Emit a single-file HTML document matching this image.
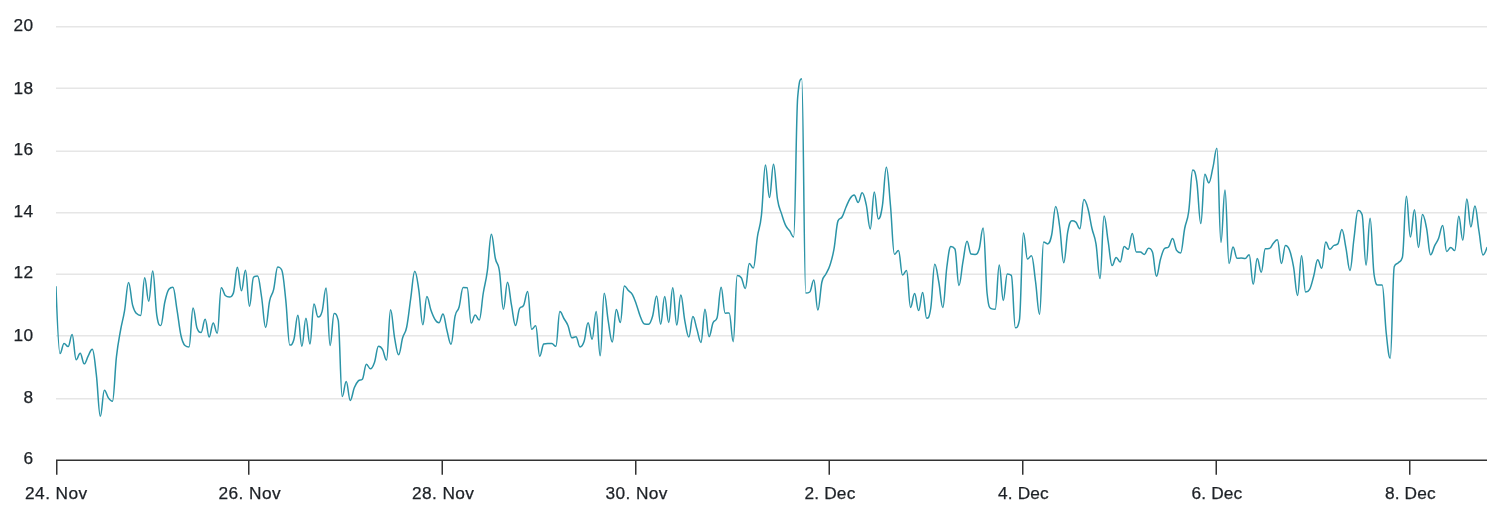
<!DOCTYPE html>
<html lang="en">
<head>
<meta charset="utf-8">
<title>Chart</title>
<style>
html,body{margin:0;padding:0;background:#fff;}
body{width:1502px;height:519px;overflow:hidden;}
svg{display:block;}
text{font-family:"Liberation Sans",sans-serif;font-size:17.3px;fill:#1d2126;letter-spacing:0.4px;stroke:#1d2126;stroke-width:0.25px;}
</style>
</head>
<body>
<svg width="1502" height="519" viewBox="0 0 1502 519">
<rect x="0" y="0" width="1502" height="519" fill="#ffffff"/>
<g fill="none" stroke="#e6e6e6" stroke-width="1.5">
<path d="M 56.0 26.75 L 1487.0 26.75"/>
<path d="M 56.0 88.25 L 1487.0 88.25"/>
<path d="M 56.0 151.25 L 1487.0 151.25"/>
<path d="M 56.0 212.75 L 1487.0 212.75"/>
<path d="M 56.0 274.25 L 1487.0 274.25"/>
<path d="M 56.0 335.75 L 1487.0 335.75"/>
<path d="M 56.0 398.75 L 1487.0 398.75"/>
</g>
<g fill="none" stroke="#333333" stroke-width="1.5">
<path d="M 56.0 460.25 L 1487.0 460.25"/>
<path d="M 56.75 460.25 L 56.75 474.75"/>
<path d="M 248.75 460.25 L 248.75 474.75"/>
<path d="M 442.25 460.25 L 442.25 474.75"/>
<path d="M 635.75 460.25 L 635.75 474.75"/>
<path d="M 829.25 460.25 L 829.25 474.75"/>
<path d="M 1022.75 460.25 L 1022.75 474.75"/>
<path d="M 1216.25 460.25 L 1216.25 474.75"/>
<path d="M 1409.75 460.25 L 1409.75 474.75"/>
</g>
<defs><clipPath id="plotclip"><rect x="56" y="26" width="1431" height="434"/></clipPath></defs>
<g clip-path="url(#plotclip)"><path d="M 56.00 286.70 C 56.00 286.70 58.42 353.50 60.03 353.50 C 61.64 353.50 62.45 343.50 64.06 343.50 C 65.67 343.50 66.48 346.60 68.09 346.60 C 69.71 346.60 70.51 334.50 72.12 334.50 C 73.74 334.50 74.54 359.70 76.15 359.70 C 77.77 359.70 78.57 353.20 80.19 353.20 C 81.80 353.20 82.60 363.80 84.22 363.80 C 85.83 363.80 86.64 358.72 88.25 355.80 C 89.86 352.88 90.67 349.20 92.28 349.20 C 93.89 349.20 94.70 360.88 96.31 374.30 C 97.92 387.72 98.73 416.30 100.34 416.30 C 101.95 416.30 102.76 390.20 104.37 390.20 C 105.98 390.20 106.79 395.68 108.40 397.90 C 110.02 400.12 110.82 401.30 112.43 401.30 C 114.05 401.30 114.85 370.76 116.46 356.60 C 118.08 342.44 118.88 339.66 120.50 330.50 C 122.11 321.34 122.91 320.42 124.53 310.80 C 126.14 301.18 126.95 282.40 128.56 282.40 C 130.17 282.40 130.98 298.86 132.59 305.10 C 134.20 311.34 135.01 311.80 136.62 313.60 C 138.23 315.40 139.04 315.40 140.65 315.40 C 142.26 315.40 143.07 277.80 144.68 277.80 C 146.29 277.80 147.10 301.20 148.71 301.20 C 150.33 301.20 151.13 270.90 152.74 270.90 C 154.36 270.90 155.16 304.70 156.77 315.10 C 158.39 325.50 159.19 325.50 160.81 325.50 C 162.42 325.50 163.22 309.24 164.84 302.00 C 166.45 294.76 167.26 291.30 168.87 289.30 C 170.48 287.30 171.29 287.30 172.90 287.30 C 174.51 287.30 175.32 299.66 176.93 309.30 C 178.54 318.94 179.35 328.26 180.96 335.50 C 182.57 342.74 183.38 344.00 184.99 345.50 C 186.60 347.00 187.41 347.00 189.02 347.00 C 190.63 347.00 191.44 308.10 193.05 308.10 C 194.67 308.10 195.47 324.00 197.08 328.20 C 198.70 332.40 199.50 332.40 201.12 332.40 C 202.73 332.40 203.53 319.30 205.15 319.30 C 206.76 319.30 207.57 337.00 209.18 337.00 C 210.79 337.00 211.60 322.90 213.21 322.90 C 214.82 322.90 215.63 333.20 217.24 333.20 C 218.85 333.20 219.66 287.70 221.27 287.70 C 222.88 287.70 223.69 294.00 225.30 295.50 C 226.91 297.00 227.72 297.00 229.33 297.00 C 230.94 297.00 231.75 297.00 233.36 293.10 C 234.98 289.20 235.78 267.20 237.39 267.20 C 239.01 267.20 239.81 290.80 241.43 290.80 C 243.04 290.80 243.84 270.30 245.46 270.30 C 247.07 270.30 247.87 306.20 249.49 306.20 C 251.10 306.20 251.91 278.70 253.52 277.30 C 255.13 275.90 255.94 275.90 257.55 275.90 C 259.16 275.90 259.97 286.70 261.58 297.00 C 263.19 307.30 264.00 327.40 265.61 327.40 C 267.22 327.40 268.03 308.42 269.64 300.80 C 271.25 293.18 272.06 296.08 273.67 289.30 C 275.29 282.52 276.09 266.90 277.70 266.90 C 279.32 266.90 280.12 266.90 281.74 270.00 C 283.35 273.10 284.15 285.08 285.77 300.10 C 287.38 315.12 288.18 345.10 289.80 345.10 C 291.41 345.10 292.22 345.10 293.83 339.70 C 295.44 334.30 296.25 315.20 297.86 315.20 C 299.47 315.20 300.28 346.20 301.89 346.20 C 303.50 346.20 304.31 318.30 305.92 318.30 C 307.53 318.30 308.34 343.90 309.95 343.90 C 311.56 343.90 312.37 303.90 313.98 303.90 C 315.60 303.90 316.40 317.00 318.01 317.00 C 319.63 317.00 320.43 317.00 322.05 311.60 C 323.66 306.20 324.46 288.10 326.08 288.10 C 327.69 288.10 328.49 345.40 330.11 345.40 C 331.72 345.40 332.53 313.50 334.14 313.50 C 335.75 313.50 336.56 313.50 338.17 320.10 C 339.78 326.70 340.59 396.60 342.20 396.60 C 343.81 396.60 344.62 381.60 346.23 381.60 C 347.84 381.60 348.65 400.40 350.26 400.40 C 351.87 400.40 352.68 391.70 354.29 387.80 C 355.91 383.90 356.71 382.50 358.32 380.90 C 359.94 379.30 360.74 380.90 362.35 379.30 C 363.97 377.70 364.77 364.20 366.39 364.20 C 368.00 364.20 368.80 368.80 370.42 368.80 C 372.03 368.80 372.84 366.92 374.45 362.40 C 376.06 357.88 376.87 346.20 378.48 346.20 C 380.09 346.20 380.90 346.52 382.51 349.30 C 384.12 352.08 384.93 360.10 386.54 360.10 C 388.15 360.10 388.96 309.70 390.57 309.70 C 392.18 309.70 392.99 328.80 394.60 337.80 C 396.22 346.80 397.02 354.70 398.63 354.70 C 400.25 354.70 401.05 343.34 402.66 337.80 C 404.28 332.26 405.08 334.90 406.70 327.00 C 408.31 319.10 409.11 309.46 410.73 298.30 C 412.34 287.14 413.15 271.20 414.76 271.20 C 416.37 271.20 417.18 279.10 418.79 289.80 C 420.40 300.50 421.21 324.70 422.82 324.70 C 424.43 324.70 425.24 296.50 426.85 296.50 C 428.46 296.50 429.27 305.44 430.88 310.00 C 432.49 314.56 433.30 316.74 434.91 319.30 C 436.53 321.86 437.33 322.80 438.94 322.80 C 440.56 322.80 441.36 313.90 442.97 313.90 C 444.59 313.90 445.39 324.72 447.01 330.80 C 448.62 336.88 449.42 344.30 451.04 344.30 C 452.65 344.30 453.46 323.66 455.07 316.20 C 456.68 308.74 457.49 312.76 459.10 307.00 C 460.71 301.24 461.52 287.40 463.13 287.40 C 464.74 287.40 465.55 287.40 467.16 287.70 C 468.77 288.00 469.58 323.10 471.19 323.10 C 472.80 323.10 473.61 315.10 475.22 315.10 C 476.83 315.10 477.64 320.10 479.25 320.10 C 480.87 320.10 481.67 302.78 483.28 293.00 C 484.90 283.22 485.70 282.94 487.32 271.20 C 488.93 259.46 489.73 234.30 491.35 234.30 C 492.96 234.30 493.77 251.16 495.38 258.50 C 496.99 265.84 497.80 260.84 499.41 271.00 C 501.02 281.16 501.83 309.30 503.44 309.30 C 505.05 309.30 505.86 282.30 507.47 282.30 C 509.08 282.30 509.89 296.56 511.50 305.20 C 513.11 313.84 513.92 325.50 515.53 325.50 C 517.14 325.50 517.95 311.60 519.56 308.50 C 521.18 305.40 521.98 308.50 523.59 305.40 C 525.21 302.30 526.01 291.40 527.63 291.40 C 529.24 291.40 530.04 329.30 531.66 329.30 C 533.27 329.30 534.07 325.80 535.69 325.80 C 537.30 325.80 538.11 356.30 539.72 356.30 C 541.33 356.30 542.14 344.50 543.75 344.00 C 545.36 343.50 546.17 343.50 547.78 343.50 C 549.39 343.50 550.20 343.50 551.81 343.50 C 553.42 343.50 554.23 346.30 555.84 346.30 C 557.45 346.30 558.26 311.60 559.87 311.60 C 561.49 311.60 562.29 315.72 563.90 318.50 C 565.52 321.28 566.32 321.64 567.94 325.50 C 569.55 329.36 570.35 337.80 571.97 337.80 C 573.58 337.80 574.38 336.70 576.00 336.70 C 577.61 336.70 578.42 347.00 580.03 347.00 C 581.64 347.00 582.45 346.46 584.06 341.60 C 585.67 336.74 586.48 322.70 588.09 322.70 C 589.70 322.70 590.51 339.30 592.12 339.30 C 593.73 339.30 594.54 311.60 596.15 311.60 C 597.76 311.60 598.57 355.80 600.18 355.80 C 601.80 355.80 602.60 293.20 604.21 293.20 C 605.83 293.20 606.63 311.44 608.25 321.20 C 609.86 330.96 610.66 342.00 612.28 342.00 C 613.89 342.00 614.69 309.60 616.31 309.60 C 617.92 309.60 618.73 322.40 620.34 322.40 C 621.95 322.40 622.76 285.90 624.37 285.90 C 625.98 285.90 626.79 288.76 628.40 290.50 C 630.01 292.24 630.82 291.76 632.43 294.60 C 634.04 297.44 634.85 300.22 636.46 304.70 C 638.07 309.18 638.88 313.16 640.49 317.00 C 642.11 320.84 642.91 323.60 644.52 323.90 C 646.14 324.20 646.94 324.20 648.55 324.20 C 650.17 324.20 650.97 321.86 652.59 316.20 C 654.20 310.54 655.00 295.90 656.62 295.90 C 658.23 295.90 659.04 324.20 660.65 324.20 C 662.26 324.20 663.07 296.60 664.68 296.60 C 666.29 296.60 667.10 322.40 668.71 322.40 C 670.32 322.40 671.13 287.70 672.74 287.70 C 674.35 287.70 675.16 325.00 676.77 325.00 C 678.38 325.00 679.19 295.00 680.80 295.00 C 682.42 295.00 683.22 312.40 684.83 320.80 C 686.45 329.20 687.25 337.00 688.86 337.00 C 690.48 337.00 691.28 316.50 692.90 316.50 C 694.51 316.50 695.31 324.12 696.93 329.30 C 698.54 334.48 699.35 342.40 700.96 342.40 C 702.57 342.40 703.38 309.30 704.99 309.30 C 706.60 309.30 707.41 336.70 709.02 336.70 C 710.63 336.70 711.44 326.58 713.05 322.80 C 714.66 319.02 715.47 322.80 717.08 317.80 C 718.69 312.80 719.50 287.30 721.11 287.30 C 722.73 287.30 723.53 313.20 725.14 313.20 C 726.76 313.20 727.56 312.90 729.17 312.90 C 730.79 312.90 731.59 341.70 733.21 341.70 C 734.82 341.70 735.62 275.60 737.24 275.60 C 738.85 275.60 739.66 275.60 741.27 277.70 C 742.88 279.80 743.69 288.50 745.30 288.50 C 746.91 288.50 747.72 263.50 749.33 263.50 C 750.94 263.50 751.75 268.10 753.36 268.10 C 754.97 268.10 755.78 247.54 757.39 237.00 C 759.00 226.46 759.81 229.78 761.42 215.40 C 763.03 201.02 763.84 165.10 765.45 165.10 C 767.07 165.10 767.87 197.50 769.48 197.50 C 771.10 197.50 771.90 164.20 773.52 164.20 C 775.13 164.20 775.93 189.76 777.55 199.70 C 779.16 209.64 779.97 208.76 781.58 213.90 C 783.19 219.04 784.00 222.02 785.61 225.40 C 787.22 228.78 788.03 228.48 789.64 230.80 C 791.25 233.12 792.06 237.00 793.67 237.00 C 795.28 237.00 796.09 115.20 797.70 97.00 C 799.31 78.80 800.12 78.80 801.73 78.80 C 803.34 78.80 804.15 293.10 805.76 293.10 C 807.38 293.10 808.18 293.10 809.79 292.00 C 811.41 290.90 812.21 280.00 813.83 280.00 C 815.44 280.00 816.24 310.10 817.86 310.10 C 819.47 310.10 820.27 289.22 821.89 282.00 C 823.50 274.78 824.31 277.36 825.92 274.00 C 827.53 270.64 828.34 270.16 829.95 265.20 C 831.56 260.24 832.37 258.06 833.98 249.20 C 835.59 240.34 836.40 224.80 838.01 220.90 C 839.62 217.00 840.43 219.78 842.04 217.00 C 843.65 214.22 844.46 210.70 846.07 207.00 C 847.69 203.30 848.49 200.88 850.10 198.50 C 851.72 196.12 852.52 195.10 854.14 195.10 C 855.75 195.10 856.55 202.40 858.17 202.40 C 859.78 202.40 860.58 192.80 862.20 192.80 C 863.81 192.80 864.62 197.48 866.23 204.70 C 867.84 211.92 868.65 228.90 870.26 228.90 C 871.87 228.90 872.68 191.90 874.29 191.90 C 875.90 191.90 876.71 219.00 878.32 219.00 C 879.93 219.00 880.74 216.56 882.35 206.20 C 883.96 195.84 884.77 167.20 886.38 167.20 C 888.00 167.20 888.80 187.30 890.41 204.70 C 892.03 222.10 892.83 254.20 894.45 254.20 C 896.06 254.20 896.86 250.50 898.48 250.50 C 900.09 250.50 900.89 275.10 902.51 275.10 C 904.12 275.10 904.93 270.50 906.54 270.50 C 908.15 270.50 908.96 307.40 910.57 307.40 C 912.18 307.40 912.99 293.60 914.60 293.60 C 916.21 293.60 917.02 310.60 918.63 310.60 C 920.24 310.60 921.05 292.40 922.66 292.40 C 924.27 292.40 925.08 318.30 926.69 318.30 C 928.31 318.30 929.11 318.30 930.72 308.50 C 932.34 298.70 933.14 264.30 934.75 264.30 C 936.37 264.30 937.17 273.36 938.79 282.00 C 940.40 290.64 941.20 307.50 942.82 307.50 C 944.43 307.50 945.24 279.18 946.85 267.00 C 948.46 254.82 949.27 246.60 950.88 246.60 C 952.49 246.60 953.30 246.60 954.91 249.00 C 956.52 251.40 957.33 285.40 958.94 285.40 C 960.55 285.40 961.36 270.52 962.97 261.70 C 964.58 252.88 965.39 241.30 967.00 241.30 C 968.62 241.30 969.42 253.60 971.03 254.00 C 972.65 254.40 973.45 254.40 975.06 254.40 C 976.68 254.40 977.48 254.40 979.10 249.30 C 980.71 244.20 981.51 228.10 983.13 228.10 C 984.74 228.10 985.55 279.40 987.16 294.00 C 988.77 308.60 989.58 307.90 991.19 308.60 C 992.80 309.30 993.61 309.30 995.22 309.30 C 996.83 309.30 997.64 265.00 999.25 265.00 C 1000.86 265.00 1001.67 300.40 1003.28 300.40 C 1004.89 300.40 1005.70 273.90 1007.31 273.90 C 1008.93 273.90 1009.73 273.90 1011.34 275.40 C 1012.96 276.90 1013.76 327.80 1015.37 327.80 C 1016.99 327.80 1017.79 327.80 1019.41 320.10 C 1021.02 312.40 1021.82 233.10 1023.44 233.10 C 1025.05 233.10 1025.86 259.00 1027.47 259.00 C 1029.08 259.00 1029.89 255.80 1031.50 255.80 C 1033.11 255.80 1033.92 269.80 1035.53 281.50 C 1037.14 293.20 1037.95 314.30 1039.56 314.30 C 1041.17 314.30 1041.98 242.00 1043.59 242.00 C 1045.20 242.00 1046.01 243.90 1047.62 243.90 C 1049.23 243.90 1050.04 242.48 1051.65 235.00 C 1053.27 227.52 1054.07 206.50 1055.68 206.50 C 1057.30 206.50 1058.10 215.74 1059.72 227.00 C 1061.33 238.26 1062.13 262.80 1063.75 262.80 C 1065.36 262.80 1066.17 240.00 1067.78 231.60 C 1069.39 223.20 1070.20 220.80 1071.81 220.80 C 1073.42 220.80 1074.23 220.80 1075.84 222.10 C 1077.45 223.40 1078.26 228.80 1079.87 228.80 C 1081.48 228.80 1082.29 199.60 1083.90 199.60 C 1085.51 199.60 1086.32 202.72 1087.93 208.50 C 1089.54 214.28 1090.35 221.42 1091.96 228.50 C 1093.58 235.58 1094.38 233.88 1095.99 243.90 C 1097.61 253.92 1098.41 278.60 1100.03 278.60 C 1101.64 278.60 1102.44 215.90 1104.06 215.90 C 1105.67 215.90 1106.47 230.96 1108.09 240.90 C 1109.70 250.84 1110.51 265.60 1112.12 265.60 C 1113.73 265.60 1114.54 257.40 1116.15 257.40 C 1117.76 257.40 1118.57 262.00 1120.18 262.00 C 1121.79 262.00 1122.60 246.60 1124.21 246.60 C 1125.82 246.60 1126.63 249.30 1128.24 249.30 C 1129.85 249.30 1130.66 233.50 1132.27 233.50 C 1133.89 233.50 1134.69 252.00 1136.30 252.00 C 1137.92 252.00 1138.72 252.00 1140.34 252.00 C 1141.95 252.00 1142.75 254.40 1144.37 254.40 C 1145.98 254.40 1146.78 248.30 1148.40 248.30 C 1150.01 248.30 1150.82 248.30 1152.43 252.00 C 1154.04 255.70 1154.85 276.30 1156.46 276.30 C 1158.07 276.30 1158.88 264.86 1160.49 259.30 C 1162.10 253.74 1162.91 250.00 1164.52 248.50 C 1166.13 247.00 1166.94 248.50 1168.55 247.00 C 1170.16 245.50 1170.97 238.50 1172.58 238.50 C 1174.20 238.50 1175.00 247.90 1176.61 250.40 C 1178.23 252.90 1179.03 252.90 1180.65 252.90 C 1182.26 252.90 1183.06 236.78 1184.68 228.50 C 1186.29 220.22 1187.09 223.18 1188.71 211.50 C 1190.32 199.82 1191.13 170.10 1192.74 170.10 C 1194.35 170.10 1195.16 170.90 1196.77 181.60 C 1198.38 192.30 1199.19 223.60 1200.80 223.60 C 1202.41 223.60 1203.22 174.20 1204.83 174.20 C 1206.44 174.20 1207.25 182.90 1208.86 182.90 C 1210.47 182.90 1211.28 174.64 1212.89 167.70 C 1214.51 160.76 1215.31 148.20 1216.92 148.20 C 1218.54 148.20 1219.34 242.40 1220.95 242.40 C 1222.57 242.40 1223.37 190.10 1224.99 190.10 C 1226.60 190.10 1227.40 263.50 1229.02 263.50 C 1230.63 263.50 1231.44 247.00 1233.05 247.00 C 1234.66 247.00 1235.47 258.20 1237.08 258.20 C 1238.69 258.20 1239.50 258.10 1241.11 258.10 C 1242.72 258.10 1243.53 258.60 1245.14 258.60 C 1246.75 258.60 1247.56 254.70 1249.17 254.70 C 1250.78 254.70 1251.59 284.30 1253.20 284.30 C 1254.82 284.30 1255.62 258.60 1257.23 258.60 C 1258.85 258.60 1259.65 272.30 1261.26 272.30 C 1262.88 272.30 1263.68 248.80 1265.30 248.70 C 1266.91 248.60 1267.71 248.70 1269.33 248.60 C 1270.94 248.50 1271.75 244.96 1273.36 243.20 C 1274.97 241.44 1275.78 239.80 1277.39 239.80 C 1279.00 239.80 1279.81 263.50 1281.42 263.50 C 1283.03 263.50 1283.84 245.50 1285.45 245.50 C 1287.06 245.50 1287.87 245.88 1289.48 250.10 C 1291.09 254.32 1291.90 257.52 1293.51 266.60 C 1295.13 275.68 1295.93 295.50 1297.54 295.50 C 1299.16 295.50 1299.96 255.80 1301.57 255.80 C 1303.19 255.80 1303.99 292.10 1305.61 292.10 C 1307.22 292.10 1308.02 292.10 1309.64 289.30 C 1311.25 286.50 1312.06 282.12 1313.67 276.20 C 1315.28 270.28 1316.09 259.70 1317.70 259.70 C 1319.31 259.70 1320.12 268.30 1321.73 268.30 C 1323.34 268.30 1324.15 242.10 1325.76 242.10 C 1327.37 242.10 1328.18 249.30 1329.79 249.30 C 1331.40 249.30 1332.21 246.58 1333.82 245.50 C 1335.43 244.42 1336.24 245.50 1337.85 243.90 C 1339.47 242.30 1340.27 229.60 1341.88 229.60 C 1343.50 229.60 1344.30 239.64 1345.92 247.80 C 1347.53 255.96 1348.33 270.40 1349.95 270.40 C 1351.56 270.40 1352.37 250.48 1353.98 238.50 C 1355.59 226.52 1356.40 210.50 1358.01 210.50 C 1359.62 210.50 1360.43 210.50 1362.04 214.60 C 1363.65 218.70 1364.46 265.20 1366.07 265.20 C 1367.68 265.20 1368.49 218.30 1370.10 218.30 C 1371.71 218.30 1372.52 264.90 1374.13 275.00 C 1375.74 285.10 1376.55 285.10 1378.16 285.10 C 1379.78 285.10 1380.58 285.10 1382.19 285.10 C 1383.81 285.10 1384.61 318.36 1386.23 333.00 C 1387.84 347.64 1388.64 358.30 1390.26 358.30 C 1391.87 358.30 1392.67 270.30 1394.29 266.50 C 1395.90 262.70 1396.71 264.48 1398.32 262.70 C 1399.93 260.92 1400.74 262.70 1402.35 257.60 C 1403.96 252.50 1404.77 196.30 1406.38 196.30 C 1407.99 196.30 1408.80 237.10 1410.41 237.10 C 1412.02 237.10 1412.83 209.70 1414.44 209.70 C 1416.05 209.70 1416.86 247.40 1418.47 247.40 C 1420.09 247.40 1420.89 214.60 1422.50 214.60 C 1424.12 214.60 1424.92 220.16 1426.54 228.20 C 1428.15 236.24 1428.95 254.80 1430.57 254.80 C 1432.18 254.80 1432.98 249.22 1434.60 245.90 C 1436.21 242.58 1437.02 242.30 1438.63 238.20 C 1440.24 234.10 1441.05 225.40 1442.66 225.40 C 1444.27 225.40 1445.08 251.60 1446.69 251.60 C 1448.30 251.60 1449.11 247.40 1450.72 247.40 C 1452.33 247.40 1453.14 250.50 1454.75 250.50 C 1456.36 250.50 1457.17 216.30 1458.78 216.30 C 1460.40 216.30 1461.20 240.20 1462.81 240.20 C 1464.43 240.20 1465.23 198.90 1466.85 198.90 C 1468.46 198.90 1469.26 226.90 1470.88 226.90 C 1472.49 226.90 1473.29 206.10 1474.91 206.10 C 1476.52 206.10 1477.33 221.24 1478.94 231.00 C 1480.55 240.76 1481.36 254.90 1482.97 254.90 C 1484.58 254.90 1487.00 247.40 1487.00 247.40" fill="none" stroke="#2b94a7" stroke-width="1.5" stroke-linejoin="round" stroke-linecap="round"/></g>
<g text-anchor="middle">
<text x="56.30" y="499">24. Nov</text>
<text x="249.76" y="499">26. Nov</text>
<text x="443.22" y="499">28. Nov</text>
<text x="636.68" y="499">30. Nov</text>
<text x="830.02" y="499" style="letter-spacing:0.15px">2. Dec</text>
<text x="1023.48" y="499" style="letter-spacing:0.15px">4. Dec</text>
<text x="1216.93" y="499" style="letter-spacing:0.15px">6. Dec</text>
<text x="1410.39" y="499" style="letter-spacing:0.15px">8. Dec</text>
</g>
<g text-anchor="end">
<text x="33.60" y="30.85">20</text>
<text x="33.60" y="93.85">18</text>
<text x="33.60" y="154.85">16</text>
<text x="33.60" y="216.85">14</text>
<text x="33.60" y="277.85">12</text>
<text x="33.60" y="340.85">10</text>
<text x="33.60" y="402.85">8</text>
<text x="33.60" y="463.85">6</text>
</g>
</svg>
</body>
</html>
